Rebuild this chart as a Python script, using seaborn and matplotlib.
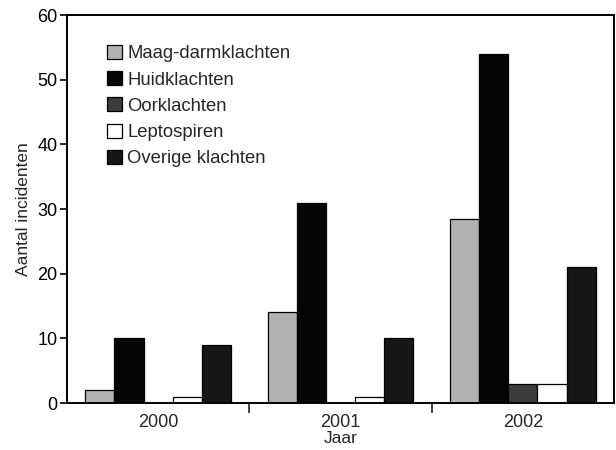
import matplotlib
matplotlib.use("Agg")
import matplotlib.pyplot as plt
import seaborn as sns
import pandas as pd

years = ["2000", "2001", "2002"]
categories = ["Maag-darmklachten", "Huidklachten", "Oorklachten", "Leptospiren", "Overige klachten"]
maag = [2, 14, 28.5]
huid = [10, 31, 54]
oor = [0, 0, 3]
lepto = [1, 1, 3]
overige = [9, 10, 21]
colors = ["#b2b2b2", "#050505", "#3c3c3c", "#ffffff", "#161616"]
yticks = [0, 10, 20, 30, 40, 50, 60]

series = [maag, huid, oor, lepto, overige]
rows = []
for cat, vals in zip(categories, series):
    for y, v in zip(years, vals):
        rows.append({"Jaar": y, "Klacht": cat, "Aantal": v})
df = pd.DataFrame(rows)

sns.set_style("ticks")
plt.rcParams["font.family"] = ["Liberation Sans", "DejaVu Sans"]

fig = plt.figure(figsize=(6.16, 4.5), dpi=100)
ax = fig.add_axes([67/616, 47/450, 547/616, 388/450])

sns.barplot(data=df, x="Jaar", y="Aantal", hue="Klacht", order=years,
            hue_order=categories, palette=colors, edgecolor="black",
            linewidth=0.9, width=0.8, ax=ax, legend=True, saturation=1)

ax.set_xlim(-0.5, 2.5)
ax.set_ylim(0, 60)
ax.set_yticks(yticks)
ax.tick_params(axis="y", direction="out", length=5, width=1.2, labelsize=13, pad=2, colors="black")
ax.tick_params(axis="x", which="major", length=0, labelsize=13, pad=8)
ax.set_xticks([0.5, 1.5], minor=True)
ax.tick_params(axis="x", which="minor", direction="out", length=7, width=1.2)
for s in ax.spines.values():
    s.set_visible(True)
    s.set_linewidth(1.4)
    s.set_color("black")

ax.set_xlabel("Jaar", fontsize=12.5, labelpad=0)
ax.set_ylabel("Aantal incidenten", fontsize=12.5, labelpad=4)

handles, labels = ax.get_legend_handles_labels()
leg = ax.legend(handles, labels, loc="upper left",
                bbox_to_anchor=(107/616, 1 - 45/450), bbox_transform=fig.transFigure,
                frameon=False, fontsize=13.3, handlelength=0.8, handleheight=0.8,
                handletextpad=0.3, labelspacing=0.47, borderpad=0, borderaxespad=0)

fig.savefig("out.png", dpi=100)
